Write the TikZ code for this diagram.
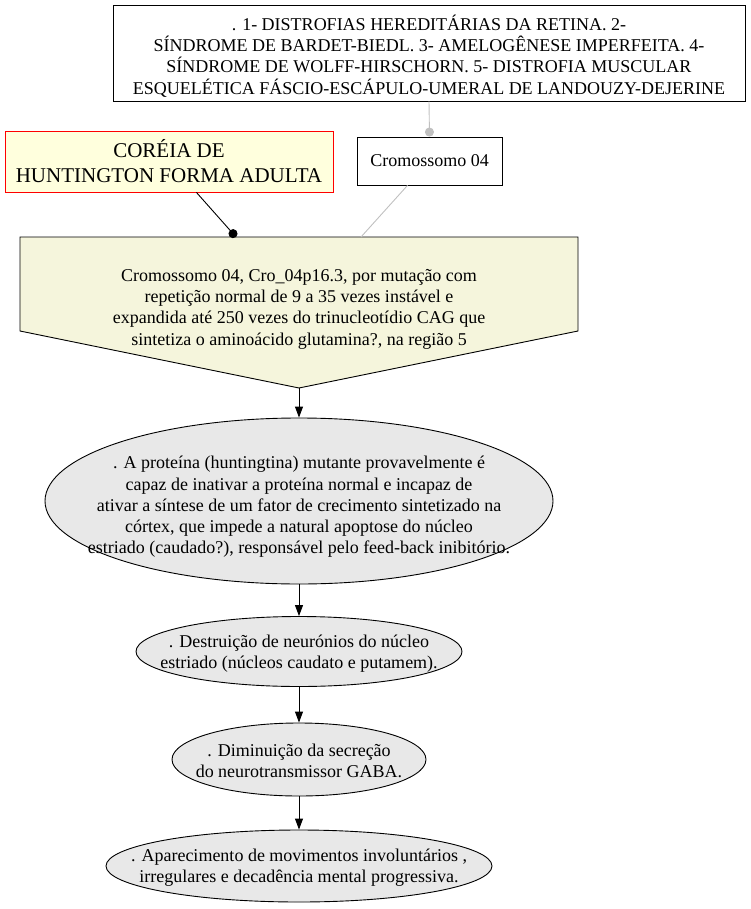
\documentclass[tikz,border=0pt]{standalone}
\usepackage{fontspec}
\setmainfont{Liberation Serif}
\usetikzlibrary{shapes.geometric,arrows.meta}
\definecolor{hfill}{HTML}{FFFFDD}
\definecolor{mfill}{HTML}{F5F5DC}
\definecolor{efill}{HTML}{E8E8E8}
\definecolor{gline}{HTML}{C0C0C0}
\begin{document}
\begin{tikzpicture}[x=1pt,y=-1pt, line width=0.9pt,
  txt/.style={font=\fontsize{18}{21.3}\selectfont, align=center, inner sep=0pt},
  boxw/.style={draw=black, fill=white, inner sep=0pt},
  ell/.style={ellipse, draw=black, fill=efill, inner sep=0pt},
  arr/.style={draw=black, -{Triangle[length=11pt,width=8pt]}},
  dotarr/.style={-{Circle[length=9pt]}}]
\useasboundingbox (0,0) rectangle (750,909);
% top box
\node[boxw, minimum width=632pt, minimum height=96pt] (top) at (429,53) {};
\node[txt] (topt) at (429,56)
 {. 1- DISTROFIAS HEREDIT\'ARIAS DA RETINA. 2-\\
  S\'INDROME DE BARDET-BIEDL. 3- AMELOG\^ENESE IMPERFEITA. 4-\\
  S\'INDROME DE WOLFF-HIRSCHORN. 5- DISTROFIA MUSCULAR\\
  ESQUEL\'ETICA F\'ASCIO-ESC\'APULO-UMERAL DE LANDOUZY-DEJERINE};
% cromossomo box
\node[boxw, txt, minimum width=145pt, minimum height=48pt] (crom) at (429.5,161) {Cromossomo 04};
% huntington box
\node[txt, draw=red, fill=hfill, minimum width=328pt, minimum height=61pt,
  font=\fontsize{21}{25}\selectfont] (hunt) at (169,161.5) {COR\'EIA DE\\HUNTINGTON FORMA ADULTA};
% pentagon
\path[draw=black, fill=mfill] (20,237) -- (578,237) -- (578,331) -- (299,388) -- (20,331) -- cycle;
\node[txt] (mut) at (299,309)
 {Cromossomo 04, Cro\_04p16.3, por muta\c{c}\~ao com\\
  repeti\c{c}\~ao normal de 9 a 35 vezes inst\'avel e\\
  expandida at\'e 250 vezes do trinucleot\'idio CAG que\\
  sintetiza o amino\'acido glutamina?, na regi\~ao 5};
\coordinate (mutA) at (236,237);
\coordinate (mutB) at (361,237);
\coordinate (mutS) at (299,388);
% ellipses
\node[ell, minimum width=508pt, minimum height=166pt] (e1) at (299,501) {};
\node[txt] (e1t) at (299,507)
 {. A prote\'ina (huntingtina) mutante provavelmente \'e\\
  capaz de inativar a prote\'ina normal e incapaz de\\
  ativar a s\'intese de um fator de crecimento sintetizado na\\
  c\'ortex, que impede a natural apoptose do n\'ucleo\\
  estriado (caudado?), respons\'avel pelo feed-back inibit\'orio.};
\node[ell, minimum width=326pt, minimum height=70pt] (e2) at (299,651.5) {};
\node[txt] (e2t) at (299,654)
 {. Destrui\c{c}\~ao de neur\'onios do n\'ucleo\\
  estriado (n\'ucleos caudato e putamem).};
\node[ell, minimum width=254pt, minimum height=73pt] (e3) at (299,759.5) {};
\node[txt] (e3t) at (299,761)
 {. Diminui\c{c}\~ao da secre\c{c}\~ao\\
  do neurotransmissor GABA.};
\node[ell, minimum width=386pt, minimum height=72pt] (e4) at (299,866) {};
\node[txt] (e4t) at (299,868)
 {. Aparecimento de movimentos involunt\'arios ,\\
  irregulares e decad\^encia mental progressiva.};
% connectors
\draw[gline, dotarr] (top.south) -- (crom.north);
\draw[gline] (crom) -- (mutB);
\draw[black, dotarr] (hunt) -- (mutA);
\draw[arr] (mutS) -- (e1.north);
\draw[arr] (e1.south) -- (e2.north);
\draw[arr] (e2.south) -- (e3.north);
\draw[arr] (e3.south) -- (e4.north);
\end{tikzpicture}
\end{document}
